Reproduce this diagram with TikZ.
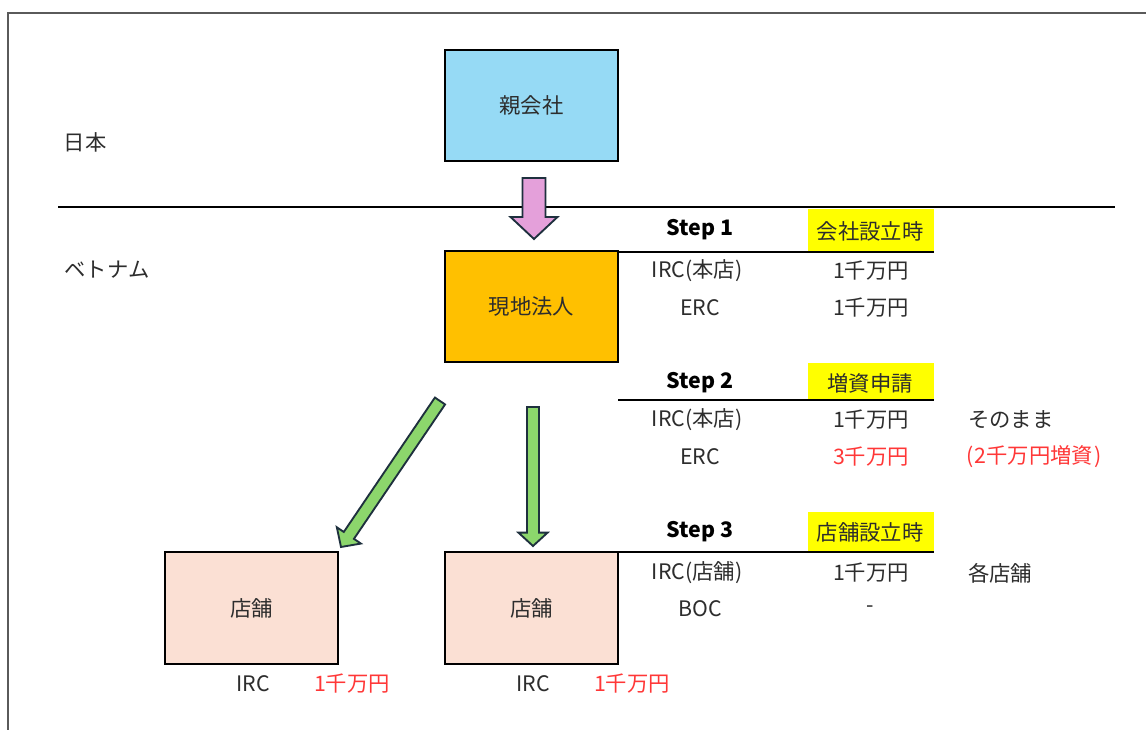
\documentclass[tikz,border=0pt]{standalone}
\usepackage{fontspec}
\setmainfont{Noto Sans CJK JP}
\usetikzlibrary{calc}

\definecolor{txt}{RGB}{45,45,45}
\definecolor{redtxt}{RGB}{255,55,55}
\definecolor{parentblue}{RGB}{150,218,245}
\definecolor{localorange}{RGB}{255,192,0}
\definecolor{shoppeach}{RGB}{251,224,212}
\definecolor{pinkarrow}{RGB}{228,160,218}
\definecolor{greenarrow}{RGB}{140,214,108}
\definecolor{arrowedge}{RGB}{30,48,62}
\definecolor{framegray}{RGB}{90,90,90}
\definecolor{hlyellow}{RGB}{255,255,0}

% block arrow: style, tail, tip, shaft half width, head half width, head length
\newcommand\blockarr[6]{%
  \coordinate (hb) at ($(#3)!#6!(#2)$);
  \draw[#1] ($(#2)!#4!90:(#3)$) -- ($(hb)!#4!90:(#3)$) -- ($(hb)!#5!90:(#3)$)
    -- (#3) -- ($(hb)!#5!-90:(#3)$) -- ($(hb)!#4!-90:(#3)$) -- ($(#2)!#4!-90:(#3)$) -- cycle;
}

\begin{document}
\begin{tikzpicture}[x=0.75pt,y=-0.75pt,
  every node/.style={text=txt,font=\fontsize{16}{19}\selectfont,inner sep=0pt},
  box/.style={draw=black,line width=1.6pt,minimum width=130pt,minimum height=83.5pt},
  redlbl/.style={text=redtxt},
  steplbl/.style={font=\fontsize{16}{19}\selectfont\bfseries,text=black},
  hl/.style={fill=hlyellow,draw=none},
  rule/.style={draw=black,line width=0.9pt},
  pinkblk/.style={fill=pinkarrow,draw=arrowedge,line width=1.4pt,line join=miter},
  greenblk/.style={fill=greenarrow,draw=arrowedge,line width=1.4pt,line join=miter}]

\useasboundingbox (0,0) rectangle (1146,730);
\fill[white] (0,0) rectangle (1146,730);

% page frame
\draw[framegray,line width=1pt] (8,730) -- (8,13) -- (1146,13);

% country split
\node (jp) at (85,142) {日本};
\node (vn) at (107,270) {ベトナム};
\coordinate (splitL) at (58,207);
\coordinate (splitR) at (1115,207);
\draw[black,line width=1.2pt] (splitL) -- (splitR);

% entities
\node[box,fill=parentblue] (parent) at (531.5,105.5) {親会社};
\node[box,fill=localorange] (local) at (531.5,306.5) {現地法人};
\node[box,fill=shoppeach] (shopA) at (251.5,608) {店舗};
\node[box,fill=shoppeach] (shopB) at (531.5,608) {店舗};

% block arrows
\coordinate (pT) at (534,178);  \coordinate (pH) at (534,239);
\blockarr{pinkblk}{pT}{pH}{8.6pt}{17.6pt}{16.5pt}
\coordinate (gaT) at (440,401); \coordinate (gaH) at (341,547);
\blockarr{greenblk}{gaT}{gaH}{4.6pt}{10.9pt}{10.5pt}
\coordinate (gbT) at (533,407); \coordinate (gbH) at (533,546);
\blockarr{greenblk}{gbT}{gbH}{4.5pt}{10.9pt}{10pt}

% shop capital labels
\node (ircA) at (253,684) {IRC};
\node[redlbl] (capA) at (352,684) {1千万円};
\node (ircB) at (533,684) {IRC};
\node[redlbl] (capB) at (632,684) {1千万円};

% Step 1
\fill[hl] (808,209) rectangle (934,251);
\node[steplbl] (s1) at (700,230) {Step 1};
\node (s1t) at (870,231) {会社設立時};
\draw[rule] (618,252) -- (934,252);
\node (s1a) at (697,271) {IRC(本店)};
\node (s1av) at (871,271) {1千万円};
\node (s1b) at (700,308) {ERC};
\node (s1bv) at (871,308) {1千万円};

% Step 2
\fill[hl] (808,363) rectangle (934,400);
\node[steplbl] (s2) at (700,383) {Step 2};
\node (s2t) at (870,383) {増資申請};
\draw[rule] (618,400) -- (934,400);
\node (s2a) at (697,420) {IRC(本店)};
\node (s2av) at (871,420) {1千万円};
\node[anchor=west] (s2an) at (968,420) {そのまま};
\node (s2b) at (700,457) {ERC};
\node[redlbl] (s2bv) at (871,457) {3千万円};
\node[redlbl,anchor=west] (s2bn) at (966,457) {(\kern1pt2千万円増資\kern1pt)};

% Step 3
\fill[hl] (808,512) rectangle (934,552);
\node[steplbl] (s3) at (700,532) {Step 3};
\node (s3t) at (870,532) {店舗設立時};
\draw[rule] (618,552) -- (934,552);
\node (s3a) at (697,573) {IRC(店舗)};
\node (s3av) at (871,573) {1千万円};
\node[anchor=west] (s3an) at (968,573) {各店舗};
\node (s3b) at (700,609) {BOC};
\node (s3bv) at (870,609) {-};

\end{tikzpicture}
\end{document}
